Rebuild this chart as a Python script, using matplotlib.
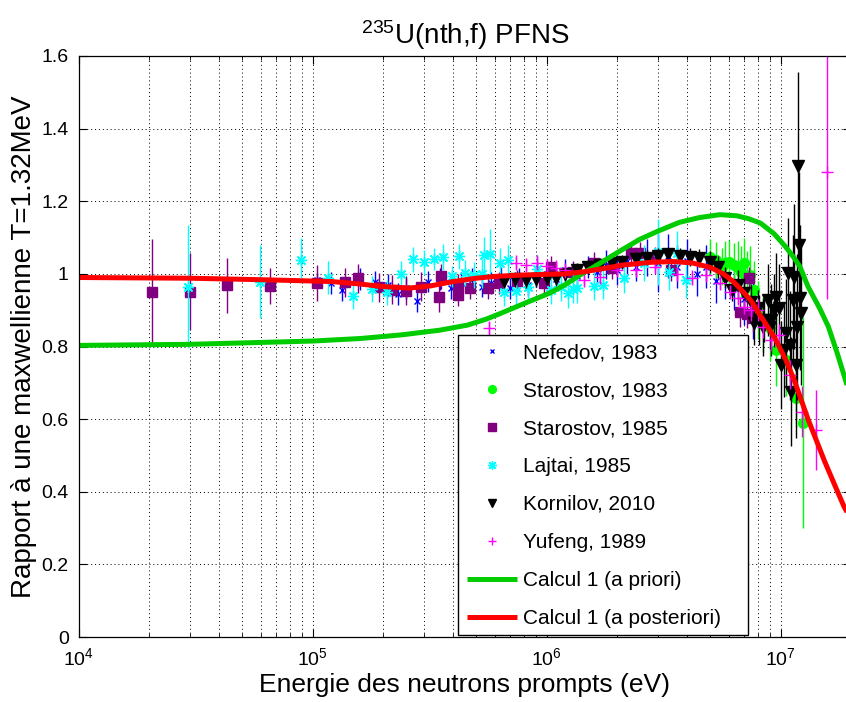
import matplotlib
matplotlib.use('Agg')
import matplotlib.pyplot as plt
from matplotlib import rcParams
from matplotlib.lines import Line2D
from matplotlib.patches import Rectangle
from matplotlib.ticker import LogLocator, LogFormatterMathtext, NullFormatter

rcParams['font.family'] = ['Liberation Sans', 'DejaVu Sans']
rcParams['mathtext.default'] = 'regular'
rcParams['xtick.labelsize'] = 14
rcParams['ytick.labelsize'] = 14

# ---- experimental data : energy (eV), ratio to Maxwellian, uncertainty ----
nefedov_e = [1.04e5, 1.2e5, 1.33e5, 1.6e5, 1.85e5, 2.1e5, 2.31e5, 2.5e5, 2.79e5,
             3.13e5, 3.5e5, 3.9e5, 4.3e5, 4.8e5, 5.3e5, 5.8e5, 6.4e5, 7.0e5,
             7.6e5, 8.3e5, 9.0e5, 1.0e6, 1.1e6, 1.2e6, 1.35e6, 1.5e6, 1.65e6,
             1.8e6, 2.0e6, 2.2e6, 2.4e6, 2.7e6, 3.0e6, 3.3e6, 3.6e6, 4.0e6,
             4.4e6, 4.8e6, 5.3e6, 5.8e6, 6.3e6, 7.0e6, 7.6e6]
nefedov_y = [0.983, 0.975, 0.956, 0.985, 0.979, 0.97, 0.945, 0.96, 0.926,
             0.979, 0.985, 0.96, 0.975, 0.985, 0.965, 0.975, 0.99, 0.96,
             0.985, 0.97, 0.995, 1.0, 0.985, 1.01, 0.995, 1.02, 1.005,
             1.025, 1.01, 1.035, 1.02, 1.045, 1.03, 1.05, 1.02, 1.035,
             1.0, 1.02, 0.98, 0.99, 0.96, 0.93, 0.9]
nefedov_err = [0.02, 0.03, 0.03, 0.03, 0.03, 0.03, 0.03, 0.03, 0.03,
               0.03, 0.03, 0.03, 0.03, 0.03, 0.03, 0.03, 0.03, 0.03,
               0.03, 0.03, 0.03, 0.03, 0.03, 0.03, 0.03, 0.03, 0.03,
               0.04, 0.04, 0.04, 0.04, 0.05, 0.08, 0.06, 0.06, 0.06,
               0.06, 0.06, 0.06, 0.06, 0.06, 0.07, 0.08]

starostov83_e = [5.0e6, 5.3e6, 5.6e6, 5.8e6, 6.0e6, 6.3e6, 6.6e6, 6.8e6, 7.0e6,
                 7.2e6, 7.4e6, 7.7e6, 8.0e6, 8.4e6, 9.0e6, 9.6e6, 1.05e7,
                 1.16e7, 1.25e7]
starostov83_y = [1.047, 1.039, 1.02, 1.03, 1.033, 1.025, 1.02, 1.006, 1.03,
                 0.992, 0.997, 0.956, 0.9, 0.865, 0.85, 0.79, 0.763,
                 0.658, 0.59]
starostov83_err = [0.05, 0.05, 0.05, 0.06, 0.06, 0.06, 0.07, 0.07, 0.07,
                   0.07, 0.08, 0.08, 0.08, 0.08, 0.09, 0.1, 0.1,
                   0.08, 0.29]

starostov85_e = [2.07e4, 3.0e4, 4.3e4, 6.6e4, 1.04e5, 1.37e5, 1.57e5, 1.93e5,
                 2.18e5, 2.51e5, 2.92e5, 3.48e5, 3.54e5, 4.17e5, 4.2e5, 4.7e5,
                 5.6e5, 6.25e5, 7.5e5, 9.75e5, 1.04e6, 1.3e6, 1.6e6, 1.9e6,
                 2.3e6, 2.5e6, 2.9e6, 3.4e6, 6.7e6, 7.2e6, 7.3e6, 7.6e6]
starostov85_y = [0.951, 0.951, 0.968, 0.967, 0.974, 0.977, 0.988, 0.963,
                 0.956, 0.953, 0.965, 0.935, 0.993, 0.97, 0.942, 0.96,
                 0.96, 0.974, 0.98, 0.974, 1.02, 1.006, 1.03, 1.017,
                 1.058, 1.058, 1.044, 1.01, 0.895, 0.89, 0.99, 0.879]
starostov85_err = [0.145, 0.106, 0.075, 0.05, 0.05, 0.04, 0.04, 0.04,
                   0.04, 0.04, 0.04, 0.04, 0.035, 0.03, 0.03, 0.03,
                   0.03, 0.03, 0.03, 0.03, 0.03, 0.03, 0.03, 0.03,
                   0.03, 0.03, 0.03, 0.03, 0.04, 0.04, 0.03, 0.04]

lajtai_e = [2.93e4, 5.96e4, 8.9e4, 1.17e5, 1.49e5, 1.79e5, 2.08e5, 2.39e5,
            2.68e5, 3.0e5, 3.31e5, 3.61e5, 3.95e5, 4.21e5, 4.5e5, 4.89e5,
            5.3e5, 5.4e5, 5.76e5, 6.35e5, 6.56e5, 6.82e5, 7.37e5, 8.3e5,
            9.1e5, 1.05e6, 1.15e6, 1.23e6, 1.3e6, 1.35e6, 1.6e6, 1.75e6,
            2.14e6, 2.6e6, 3.0e6, 3.33e6, 3.6e6, 3.93e6]
lajtai_y = [0.965, 0.979, 1.039, 0.99, 0.939, 0.958, 0.949, 1.0,
            1.04, 1.032, 1.041, 1.046, 0.993, 1.048, 1.002, 0.997,
            1.0, 1.052, 1.054, 1.031, 0.951, 1.039, 0.954, 0.965,
            1.013, 0.956, 0.964, 0.947, 0.959, 0.961, 0.967, 0.97,
            0.988, 1.03, 1.06, 1.006, 1.058, 0.983]
lajtai_err = [0.17, 0.1, 0.06, 0.045, 0.037, 0.035, 0.035, 0.035,
              0.035, 0.035, 0.03, 0.035, 0.03, 0.035, 0.035, 0.035,
              0.04, 0.05, 0.07, 0.04, 0.04, 0.04, 0.04, 0.04,
              0.04, 0.04, 0.04, 0.04, 0.04, 0.04, 0.04, 0.04,
              0.04, 0.05, 0.09, 0.05, 0.06, 0.05]

kornilov_e = [6.6e5, 7.3e5, 8.2e5, 9.0e5, 1.0e6, 1.1e6, 1.2e6, 1.35e6, 1.5e6,
              1.7e6, 1.9e6, 2.1e6, 2.4e6, 2.7e6, 3.0e6, 3.3e6, 3.7e6, 4.1e6,
              4.5e6, 5.0e6, 5.4e6, 5.8e6, 6.2e6, 6.6e6, 7.0e6, 7.5e6, 7.7e6,
              8.0e6, 8.1e6, 8.4e6, 8.5e6, 8.8e6, 9.0e6, 9.1e6, 9.4e6, 9.6e6,
              9.8e6, 1.0e7, 1.03e7, 1.06e7, 1.08e7, 1.1e7, 1.11e7, 1.13e7,
              1.14e7, 1.16e7, 1.18e7, 1.19e7, 1.2e7, 1.21e7, 1.22e7]
kornilov_y = [0.98, 0.985, 0.982, 0.985, 0.988, 0.99, 1.0, 1.01, 1.02,
              1.025, 1.03, 1.033, 1.04, 1.045, 1.05, 1.055, 1.05, 1.047,
              1.044, 1.033, 1.02, 0.99, 0.956, 0.97, 0.948, 0.923, 0.865,
              0.906, 0.873, 0.854, 0.873, 0.928, 0.854, 0.873, 0.90, 0.937,
              0.906, 0.749, 0.79, 0.837, 1.003, 0.804, 0.675, 0.928,
              0.992, 0.749, 0.854, 1.296, 1.08, 0.934, 0.893]
kornilov_err = [0.02, 0.02, 0.02, 0.02, 0.02, 0.02, 0.02, 0.02, 0.02,
                0.02, 0.02, 0.02, 0.02, 0.02, 0.02, 0.02, 0.02, 0.025,
                0.025, 0.03, 0.03, 0.03, 0.03, 0.04, 0.04, 0.05, 0.06,
                0.05, 0.07, 0.08, 0.06, 0.1, 0.06, 0.1, 0.1, 0.12,
                0.12, 0.12, 0.13, 0.15, 0.15, 0.15, 0.15, 0.18,
                0.2, 0.2, 0.2, 0.26, 0.2, 0.2, 0.2]

yufeng_e = [5.66e5, 7.37e5, 8.2e5, 9.1e5, 1.0e6, 1.1e6, 1.2e6, 1.45e6, 1.7e6,
            2.0e6, 2.4e6, 2.9e6, 3.6e6, 4.2e6, 4.8e6, 5.5e6, 6.1e6, 6.6e6,
            7.0e6, 7.5e6, 8.0e6, 8.4e6, 9.1e6, 9.8e6, 1.1e7, 1.24e7, 1.42e7,
            1.58e7]
yufeng_y = [0.85, 1.031, 1.025, 1.031, 1.022, 1.017, 1.01, 0.983, 0.992,
            1.011, 1.011, 1.02, 1.0, 0.99, 0.997, 0.975, 0.95, 0.934,
            0.909, 0.9, 0.9, 0.854, 0.818, 0.832, 0.722, 0.62, 0.57,
            1.28]
yufeng_err = [0.02, 0.02, 0.02, 0.02, 0.02, 0.02, 0.02, 0.02, 0.02,
              0.02, 0.02, 0.02, 0.02, 0.02, 0.02, 0.02, 0.02, 0.02,
              0.02, 0.03, 0.03, 0.03, 0.03, 0.03, 0.04, 0.07, 0.11,
              0.35]

# ---- model calculations ----
apriori_e = [1e4, 3e4, 1e5, 1.6e5, 2.4e5, 3.5e5, 4.6e5, 5.5e5, 6.3e5, 8e5,
             1.03e6, 1.2e6, 1.4e6, 1.7e6, 2e6, 2.5e6, 3e6, 3.7e6, 4.5e6,
             5.5e6, 6.5e6, 7.3e6, 8.2e6, 9.4e6, 1.05e7, 1.14e7, 1.21e7,
             1.31e7, 1.47e7, 1.6e7, 1.75e7, 1.91e7, 2e7]
apriori_y = [0.803, 0.806, 0.815, 0.822, 0.832, 0.845, 0.859, 0.875, 0.89, 0.918,
             0.947, 0.97, 0.998, 1.03, 1.058, 1.095, 1.118, 1.142, 1.155,
             1.163, 1.16, 1.152, 1.14, 1.11, 1.075, 1.045, 1.02,
             0.965, 0.905, 0.855, 0.78, 0.70, 0.66]

aposteriori_e = [1e4, 3e4, 6e4, 1.2e5, 1.6e5, 2e5, 2.6e5, 3.2e5, 4e5, 5e5,
                 6e5, 8e5, 1.2e6, 1.45e6, 1.8e6, 2.1e6, 2.8e6, 3.5e6, 4.2e6,
                 5e6, 5.7e6, 6.3e6, 6.8e6, 7.5e6, 8.2e6, 9.4e6, 1.05e7,
                 1.14e7, 1.31e7, 1.54e7, 1.7e7, 1.87e7, 2e7]
aposteriori_y = [0.99, 0.988, 0.984, 0.979, 0.972, 0.965, 0.961, 0.967, 0.979, 0.988,
                 0.993, 0.997, 1.0, 1.006, 1.016, 1.024, 1.032, 1.034, 1.03,
                 1.018, 1.0, 0.978, 0.956, 0.925, 0.885, 0.826, 0.765,
                 0.71, 0.6, 0.485, 0.42, 0.358, 0.325]

yticks = [0, 0.2, 0.4, 0.6, 0.8, 1.0, 1.2, 1.4, 1.6]
ytick_labels = ['0', '0.2', '0.4', '0.6', '0.8', '1', '1.2', '1.4', '1.6']

PURPLE = (0.5, 0, 0.5)
ASTERISK = (8, 2, 0)
series = [
    (nefedov_e, nefedov_y, nefedov_err, 'x', 'blue', 4, 'Nefedov, 1983'),
    (starostov83_e, starostov83_y, starostov83_err, 'o', (0, 1, 0), 7, 'Starostov, 1983'),
    (starostov85_e, starostov85_y, starostov85_err, 's', PURPLE, 6.5, 'Starostov, 1985'),
    (lajtai_e, lajtai_y, lajtai_err, ASTERISK, 'cyan', 8, 'Lajtai, 1985'),
    (kornilov_e, kornilov_y, kornilov_err, 'v', 'black', 8, 'Kornilov, 2010'),
    (yufeng_e, yufeng_y, yufeng_err, '+', 'magenta', 8, 'Yufeng, 1989'),
]

fig = plt.figure(figsize=(8.46, 7.02), dpi=100)
ax = fig.add_axes([78.5 / 846, 65 / 702, 772.5 / 846, 581 / 702])

handles = []
for e, y, err, mk, col, ms, lab in series:
    ax.errorbar(e, y, yerr=err, fmt='none', ecolor=col, elinewidth=1.0, capsize=0)
    ax.plot(e, y, ls='none', marker=mk, color=col, ms=ms, mew=1.0)
    handles.append(Line2D([], [], ls='none', marker=mk, color=col, ms=ms * 0.8,
                          mew=1.0, label=lab))

ln1, = ax.plot(apriori_e, apriori_y, color=(0, 0.8, 0), lw=3.6,
               solid_capstyle='butt', label='Calcul 1 (a priori)')
ln2, = ax.plot(aposteriori_e, aposteriori_y, color='red', lw=3.6,
               solid_capstyle='butt', label='Calcul 1 (a posteriori)')
handles += [ln1, ln2]

ax.set_xscale('log')
ax.set_xlim(1e4, 2e7)
ax.set_ylim(0, 1.6)
ax.set_yticks(yticks)
ax.set_yticklabels(ytick_labels)
ax.xaxis.set_major_locator(LogLocator(base=10, numticks=10))
ax.xaxis.set_major_formatter(LogFormatterMathtext())
ax.xaxis.set_minor_locator(LogLocator(base=10, subs=range(2, 10), numticks=20))
ax.xaxis.set_minor_formatter(NullFormatter())

ax.tick_params(which='both', direction='in', top=True, right=True)
ax.tick_params(which='major', length=6, width=0.8, pad=7)
ax.tick_params(which='minor', length=3, width=0.6)
ax.grid(True, which='major', ls=(0, (1, 3)), color='black', lw=0.7)
ax.grid(True, which='minor', axis='x', ls=(0, (1, 3)), color='black', lw=0.7)
for sp in ax.spines.values():
    sp.set_linewidth(0.9)

ax.set_xlabel('Energie des neutrons prompts (eV)', fontsize=19, labelpad=3)
ax.set_ylabel('Rapport à une maxwellienne T=1.32MeV', fontsize=20, labelpad=3)
ax.set_title('$^{235}$U(nth,f) PFNS', fontsize=20, pad=9)

# legend without its own frame; MATLAB-like box drawn around it with extra right margin
legend = ax.legend(handles=handles, loc='lower left', bbox_to_anchor=(0.495, 0.005),
                   borderaxespad=0, fontsize=15, labelspacing=0.91,
                   handlelength=2.4, handletextpad=0.3, frameon=False,
                   borderpad=0.3)
legend.set_zorder(10)
fig.canvas.draw()
bb = legend.get_window_extent().transformed(ax.transAxes.inverted())
box = Rectangle((bb.x0 - 0.004, bb.y0 - 0.001), bb.width + 0.03, bb.height + 0.005,
                transform=ax.transAxes, facecolor='white', edgecolor='black',
                lw=1.0, zorder=9)
ax.add_patch(box)

plt.savefig('out.png', dpi=100)
